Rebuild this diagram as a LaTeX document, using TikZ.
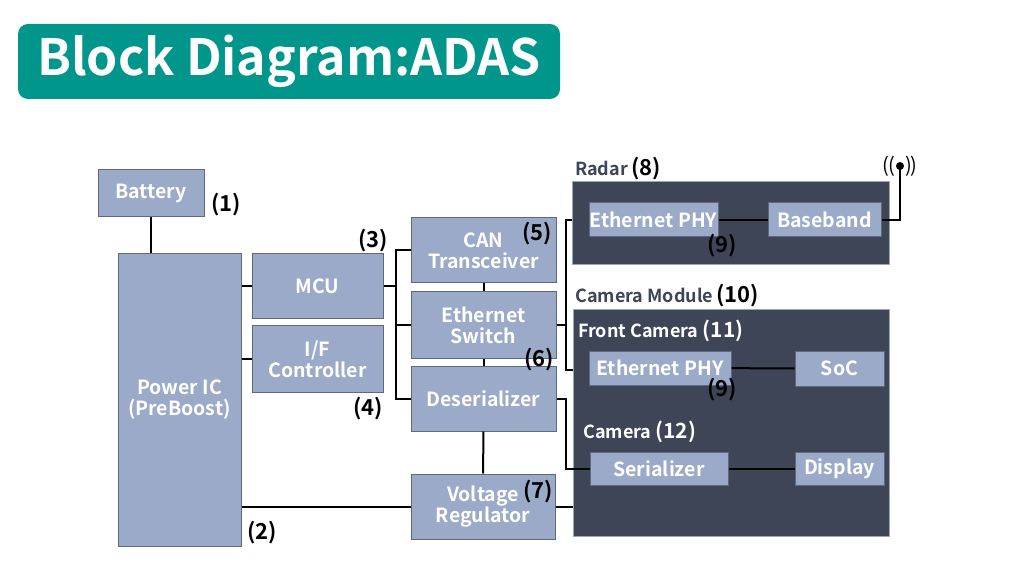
\documentclass[tikz,border=0pt]{standalone}
\usepackage{fontspec}
\setmainfont{Noto Sans CJK JP}[BoldFont={* Bold}]
\usepackage{tikz}
\usetikzlibrary{positioning}
\definecolor{boxblue}{RGB}{155,170,200}
\definecolor{boxedge}{RGB}{95,105,125}
\definecolor{panel}{RGB}{61,69,87}
\definecolor{teal}{RGB}{0,150,140}
\tikzstyle{block} = [rectangle, draw=boxedge, line width=1pt, fill=boxblue, text=white, font=\fontsize{19.5}{21}\selectfont\bfseries, align=center, inner sep=0pt]
\tikzstyle{module} = [rectangle, draw=boxedge!60, line width=1pt, fill=panel, inner sep=0pt]
\tikzstyle{num} = [font=\fontsize{22}{22}\selectfont\bfseries, text=black, inner sep=0pt]
\tikzstyle{modlabel} = [font=\fontsize{18}{20}\selectfont\bfseries, inner sep=0pt, anchor=west]
\tikzstyle{wire} = [line width=2pt, black]

\begin{document}
\begin{tikzpicture}[x=1pt, y=-1pt]
\useasboundingbox (0,0) rectangle (1012,569);

% title
\node (title) [rectangle, rounded corners=10pt, fill=teal, text=white, minimum width=542pt, minimum height=75pt, font=\fontsize{50}{52}\selectfont\bfseries] at (289,61.5) {Block Diagram:ADAS};

% panels
\node (radar) [module, minimum width=317pt, minimum height=83pt] at (730.5,223.5) {};
\node (cammod) [module, minimum width=316pt, minimum height=226pt] at (731,423) {};
\node [modlabel, text=panel] at (575,169) {Radar\,\textcolor{black}{\fontsize{22}{22}\selectfont(8)}};
\node [modlabel, text=panel] at (575,296) {Camera Module\,\textcolor{black}{\fontsize{22}{22}\selectfont(10)}};
\node [modlabel, text=white] at (578,331) {Front Camera \fontsize{21}{22}\selectfont(11)};
\node [modlabel, text=white] at (583,432) {Camera \fontsize{21}{22}\selectfont(12)};

% blocks
\node (battery) [block, minimum width=106pt, minimum height=47pt] at (151,193.5) {Battery};
\node (power) [block, minimum width=123pt, minimum height=292pt] at (179.5,400) {Power IC\\(PreBoost)};
\node (mcu) [block, minimum width=131pt, minimum height=65pt] at (317.5,286.5) {MCU};
\node (ifc) [block, minimum width=131pt, minimum height=66pt] at (317.5,359) {I/F\\Controller};
\node (can) [block, minimum width=145pt, minimum height=65pt] at (483.5,250.5) {CAN\\Transceiver};
\node (switch) [block, minimum width=145pt, minimum height=66pt] at (483.5,325) {Ethernet\\Switch};
\node (deser) [block, minimum width=145pt, minimum height=65pt] at (483.5,398.5) {Deserializer};
\node (vreg) [block, minimum width=144pt, minimum height=65pt] at (483,506.5) {Voltage\\Regulator};
\node (phy1) [block, minimum width=129pt, minimum height=34pt] at (653.5,220) {Ethernet PHY};
\node (base) [block, minimum width=113pt, minimum height=34pt] at (824.5,220) {Baseband};
\node (phy2) [block, minimum width=142pt, minimum height=34pt] at (660,368) {Ethernet PHY};
\node (soc) [block, minimum width=89pt, minimum height=35pt] at (839.5,368.5) {SoC};
\node (ser) [block, minimum width=138pt, minimum height=33pt] at (659,468.5) {Serializer};
\node (disp) [block, minimum width=89pt, minimum height=33pt] at (839.5,468.5) {Display};

% numbers
\node [num] at (226,205) {(1)};
\node [num] at (262,533) {(2)};
\node [num] at (373,241) {(3)};
\node [num] at (368,409) {(4)};
\node [num] at (537,234) {(5)};
\node [num] at (539,360) {(6)};
\node [num] at (538,492) {(7)};
\node [num] at (722,246) {(9)};
\node [num] at (722,390) {(9)};

% antenna
\coordinate (ant) at (900,166);
\fill (ant) circle (4pt);
\node [font=\fontsize{20}{20}\selectfont] at (ant) {(\hspace{-1pt}(\hspace{10pt})\hspace{-1pt})};

% connections
\draw [wire] (battery.south) -- (battery.south |- power.north);
\draw [wire] (power.east |- mcu) -- (mcu);
\draw [wire] (power.east |- ifc) -- (ifc);
\draw [wire] (power.east |- vreg) -- (vreg);
\draw [wire] (mcu.east) -- (396,286.5);
\draw [wire] (can.west) -| (396,398.5) -- (deser.west);
\draw [wire] (396,325) -- (switch.west);
\draw [wire] (can) -- (switch);
\draw [wire] (switch) -- (deser);
\draw [wire] (deser) -- (vreg);
\draw [wire] (switch.east) -- (566,325);
\draw [wire] (radar.west |- phy1) -| (566,370) -- (cammod.west |- 0,370);
\draw [wire] (deser.east) -| (566,468.5) -- (ser.west);
\draw [wire] (vreg.east) -- (cammod.west |- vreg);
\draw [wire] (phy1) -- (base);
\draw [wire] (phy2) -- (soc);
\draw [wire] (ser) -- (disp);
\draw [wire] (base.east) -| (ant);

\end{tikzpicture}
\end{document}
